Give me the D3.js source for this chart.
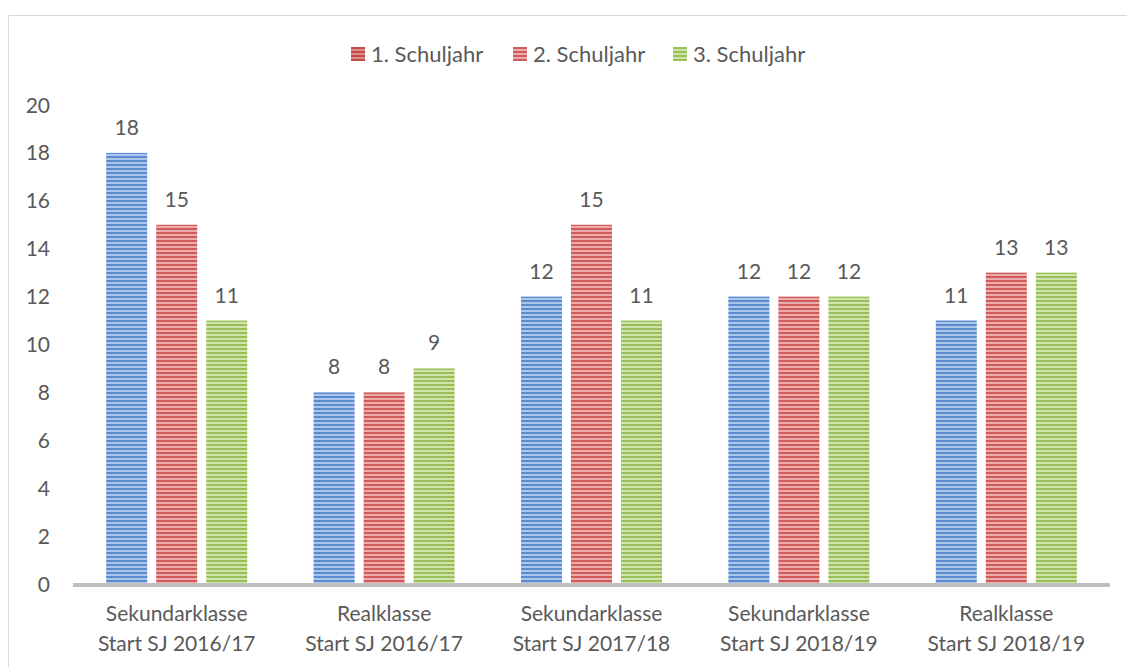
<!DOCTYPE html>
<html>
<head>
<meta charset="utf-8">
<script src="https://cdn.jsdelivr.net/npm/d3@7"></script>
<style>
  body { margin: 0; background: #fff; }
  svg text { font-family: Lato, "Noto Sans", sans-serif; fill: #595959; }
</style>
</head>
<body>
<div id="chart"></div>
<script>
var categories = [
  ["Sekundarklasse", "Start SJ 2016/17"],
  ["Realklasse", "Start SJ 2016/17"],
  ["Sekundarklasse", "Start SJ 2017/18"],
  ["Sekundarklasse", "Start SJ 2018/19"],
  ["Realklasse", "Start SJ 2018/19"]
];
var seriesNames = ["1. Schuljahr", "2. Schuljahr", "3. Schuljahr"];
var year1 = [18, 8, 12, 12, 11];
var year2 = [15, 8, 15, 12, 13];
var year3 = [11, 9, 11, 12, 13];
var yTicks = [0, 2, 4, 6, 8, 10, 12, 14, 16, 18, 20];

var width = 1127, height = 667;
var colors = [
  {dark: "#5b8bcf", light: "#abc6ea"},
  {dark: "#cf5c5a", light: "#ebabaa"},
  {dark: "#98c05a", light: "#cfe3ab"}
];
// the first legend marker is drawn reddish in the original
var legendColors = [
  {dark: "#c24a48", light: "#de8e8c"},
  colors[1],
  colors[2]
];

var svg = d3.select("#chart").append("svg")
  .attr("width", width).attr("height", height);

var defs = svg.append("defs");
function stripe(id, c) {
  var p = defs.append("pattern").attr("id", id)
    .attr("patternUnits", "userSpaceOnUse")
    .attr("width", 4).attr("height", 4);
  p.append("rect").attr("width", 4).attr("height", 4).attr("fill", c.light);
  p.append("rect").attr("width", 4).attr("height", 2).attr("fill", c.dark);
}
colors.forEach(function(c, i) { stripe("s" + i, c); });
legendColors.forEach(function(c, i) { stripe("l" + i, c); });

// frame
svg.append("path")
  .attr("d", "M8.5," + height + "V15.5H" + width)
  .attr("fill", "none").attr("stroke", "#d9d9d9").attr("stroke-width", 1);

var plotLeft = 73, plotRight = 1110, plotTop = 105, plotBottom = 584;

var x0 = d3.scaleBand().domain(d3.range(categories.length))
  .range([plotLeft, plotRight]).paddingInner(0.32).paddingOuter(0.16);
var x1 = d3.scaleBand().domain(d3.range(3))
  .range([0, x0.bandwidth()]).paddingInner(0.18);
var y = d3.scaleLinear().domain([0, 20]).range([plotBottom, plotTop]);

var data = [year1, year2, year3];

// y axis labels
svg.append("g").selectAll("text").data(yTicks).enter().append("text")
  .attr("x", 50).attr("y", function(d) { return y(d); })
  .attr("dy", "0.36em").attr("text-anchor", "end")
  .style("font-size", "21px").text(function(d) { return d; });

var groups = svg.append("g").selectAll("g").data(categories).enter().append("g")
  .attr("transform", function(d, i) { return "translate(" + x0(i) + ",0)"; });

groups.selectAll("rect").data(function(d, i) {
    return data.map(function(s, k) { return {k: k, v: s[i]}; });
  }).enter().append("rect")
  .attr("x", function(d) { return x1(d.k); })
  .attr("width", x1.bandwidth())
  .attr("y", function(d) { return y(d.v); })
  .attr("height", function(d) { return y(0) - y(d.v); })
  .attr("fill", function(d) { return "url(#s" + d.k + ")"; });

groups.selectAll("text.val").data(function(d, i) {
    return data.map(function(s, k) { return {k: k, v: s[i]}; });
  }).enter().append("text").attr("class", "val")
  .attr("x", function(d) { return x1(d.k) + x1.bandwidth() / 2; })
  .attr("y", function(d) { return y(d.v) - 18; })
  .attr("text-anchor", "middle").style("font-size", "21px")
  .text(function(d) { return d.v; });

// x axis line
svg.append("line")
  .attr("x1", plotLeft).attr("x2", plotRight).attr("y1", plotBottom + 1).attr("y2", plotBottom + 1)
  .attr("stroke", "#bfbfbf").attr("stroke-width", 4);

// category labels
var cl = svg.append("g").selectAll("text").data(categories).enter().append("text")
  .attr("text-anchor", "middle").style("font-size", "21px")
  .attr("transform", function(d, i) { return "translate(" + (x0(i) + x0.bandwidth() / 2) + ",621)"; });
cl.append("tspan").attr("x", 0).attr("y", 0).text(function(d) { return d[0]; });
cl.append("tspan").attr("x", 0).attr("y", 30).text(function(d) { return d[1]; });

// legend
var legendX = [351, 513, 673];
var lg = svg.append("g").selectAll("g").data(seriesNames).enter().append("g")
  .attr("transform", function(d, i) { return "translate(" + legendX[i] + ",47)"; });
lg.append("rect").attr("width", 14).attr("height", 14)
  .attr("fill", function(d, i) { return "url(#l" + i + ")"; });
lg.append("text").attr("x", 20).attr("y", 7).attr("dy", "0.36em")
  .style("font-size", "22px").text(function(d) { return d; });
</script>
</body>
</html>
